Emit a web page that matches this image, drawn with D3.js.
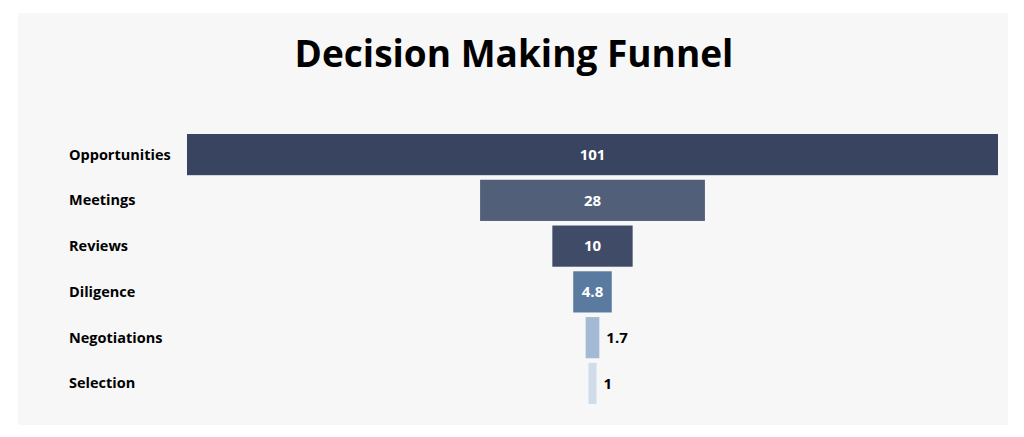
<!DOCTYPE html>
<html>
<head>
<meta charset="utf-8">
<script src="https://cdn.jsdelivr.net/npm/d3@7"></script>
<style>
  html, body { margin: 0; padding: 0; background: #ffffff; }
  svg { display: block; }
  text { font-family: "Open Sans", "Noto Sans", sans-serif; }
</style>
</head>
<body>
<div id="chart"></div>
<script>
const categories = ["Opportunities", "Meetings", "Reviews", "Diligence", "Negotiations", "Selection"];
const values = [101, 28, 10, 4.8, 1.7, 1];
const valueLabels = ["101", "28", "10", "4.8", "1.7", "1"];
const colors = ["#394460", "#525f78", "#3f4b67", "#5a7aa0", "#a4b9d3", "#d1dcea"];
const title = "Decision Making Funnel";

const W = 1024, H = 437;
const svg = d3.select("#chart").append("svg").attr("width", W).attr("height", H);

svg.append("rect").attr("x", 18).attr("y", 13).attr("width", 990).attr("height", 412).attr("fill", "#f7f7f7");

svg.append("text")
  .attr("x", 514).attr("y", 67)
  .attr("text-anchor", "middle")
  .attr("font-size", 37).attr("font-weight", 700)
  .attr("fill", "#000")
  .text(title);

const y = d3.scaleBand().domain(categories).range([134, 404]).paddingInner(0.1).paddingOuter(0);
const w = d3.scaleLinear().domain([0, d3.max(values)]).range([0, 811]);
const cx = 592.5;

const data = categories.map((c, i) => ({ c, v: values[i], label: valueLabels[i], color: colors[i] }));

svg.selectAll("rect.bar").data(data).enter().append("rect")
  .attr("class", "bar")
  .attr("x", d => cx - w(d.v) / 2)
  .attr("y", d => y(d.c))
  .attr("width", d => w(d.v))
  .attr("height", y.bandwidth())
  .attr("fill", d => d.color);

svg.selectAll("text.cat").data(data).enter().append("text")
  .attr("class", "cat")
  .attr("x", 69)
  .attr("y", d => y(d.c) + y.bandwidth() / 2)
  .attr("dy", "0.35em")
  .attr("font-size", 14.5).attr("font-weight", 700)
  .attr("fill", "#000")
  .text(d => d.c);

svg.selectAll("text.val").data(data).enter().append("text")
  .attr("class", "val")
  .attr("x", d => w(d.v) > 30 ? cx : cx + w(d.v) / 2 + 7)
  .attr("y", d => y(d.c) + y.bandwidth() / 2)
  .attr("dy", "0.35em")
  .attr("text-anchor", d => w(d.v) > 30 ? "middle" : "start")
  .attr("font-size", 15).attr("font-weight", 700)
  .attr("fill", d => w(d.v) > 30 ? "#ffffff" : "#000000")
  .text(d => d.label);
</script>
</body>
</html>
